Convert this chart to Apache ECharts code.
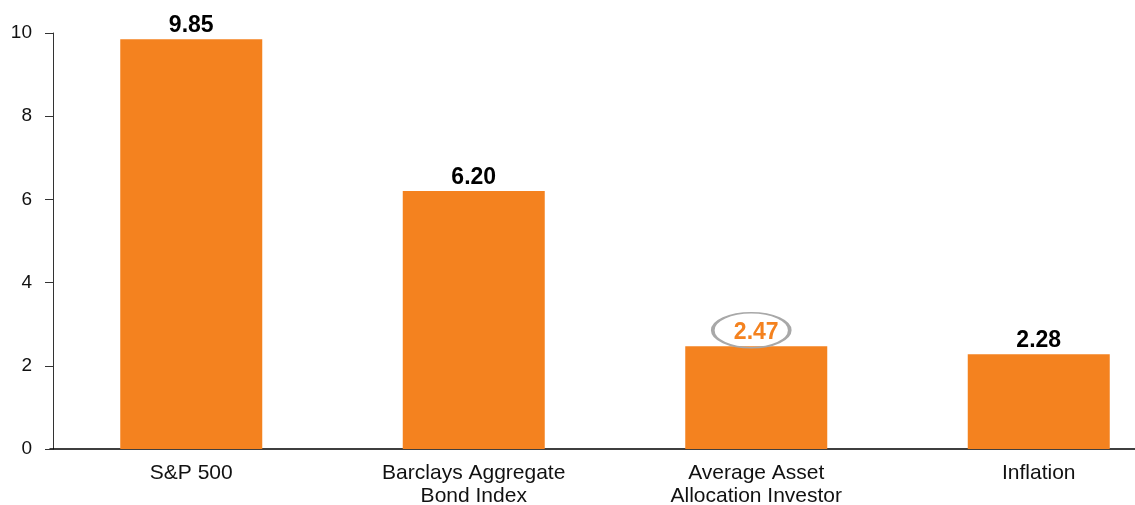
<!DOCTYPE html>
<html>
<head>
<meta charset="utf-8">
<script src="https://cdn.jsdelivr.net/npm/echarts@6/dist/echarts.min.js"></script>
<style>
  html, body { margin: 0; padding: 0; background: #fff; overflow: hidden; }
  /* plot runs past the right edge in the original, so the canvas is wider than the window */
  #chart { width: 1180px; height: 505px; }
</style>
</head>
<body>
<div id="chart"></div>
<script>
const categories = ['S&P 500', 'Barclays Aggregate\nBond Index', 'Average Asset\nAllocation Investor', 'Inflation'];
const values = [9.85, 6.20, 2.47, 2.28];
const highlightIndex = 2;
const yTicks = [0, 2, 4, 6, 8, 10];

const ORANGE = '#F4821F';
const chart = echarts.init(document.getElementById('chart'), null, { renderer: 'canvas' });

const option = {
  animation: false,
  grid: { left: 50, right: 0, top: 33, bottom: 56, containLabel: false, outerBoundsMode: 'none' },
  xAxis: {
    type: 'category',
    data: categories,
    axisLine: { lineStyle: { color: '#000', width: 1.5 } },
    axisTick: { show: false },
    axisLabel: {
      color: '#111',
      fontFamily: 'Liberation Sans, Arial',
      fontSize: 21,
      lineHeight: 23,
      margin: 13
    }
  },
  yAxis: {
    type: 'value',
    min: 0,
    max: 10,
    interval: 2,
    offset: -3,
    splitLine: { show: false },
    axisLine: { show: true, lineStyle: { color: '#333', width: 1 } },
    axisTick: { show: true, length: 8, lineStyle: { color: '#333' } },
    axisLabel: {
      color: '#111',
      fontFamily: 'Liberation Sans, Arial',
      fontSize: 19,
      margin: 21,
      formatter: v => (yTicks.includes(v) ? String(v) : '')
    }
  },
  series: [{
    type: 'bar',
    barWidth: 142,
    itemStyle: { color: ORANGE },
    data: values.map((v, i) => ({
      value: v,
      label: i === highlightIndex ? { color: ORANGE } : undefined
    })),
    label: {
      show: true,
      position: 'top',
      distance: 2,
      color: '#000',
      fontFamily: 'Liberation Sans, Arial',
      fontWeight: 'bold',
      fontSize: 23,
      formatter: p => p.value.toFixed(2)
    },
    markPoint: {
      silent: true,
      symbol: 'circle',
      symbolSize: [77, 35],
      symbolOffset: [-5, -16],
      itemStyle: { color: 'rgba(0,0,0,0)', borderColor: '#A8A8A8', borderWidth: 2.5 },
      label: { show: false },
      data: [{ coord: [highlightIndex, values[highlightIndex]] }]
    }
  }]
};

chart.setOption(option);
</script>
</body>
</html>
